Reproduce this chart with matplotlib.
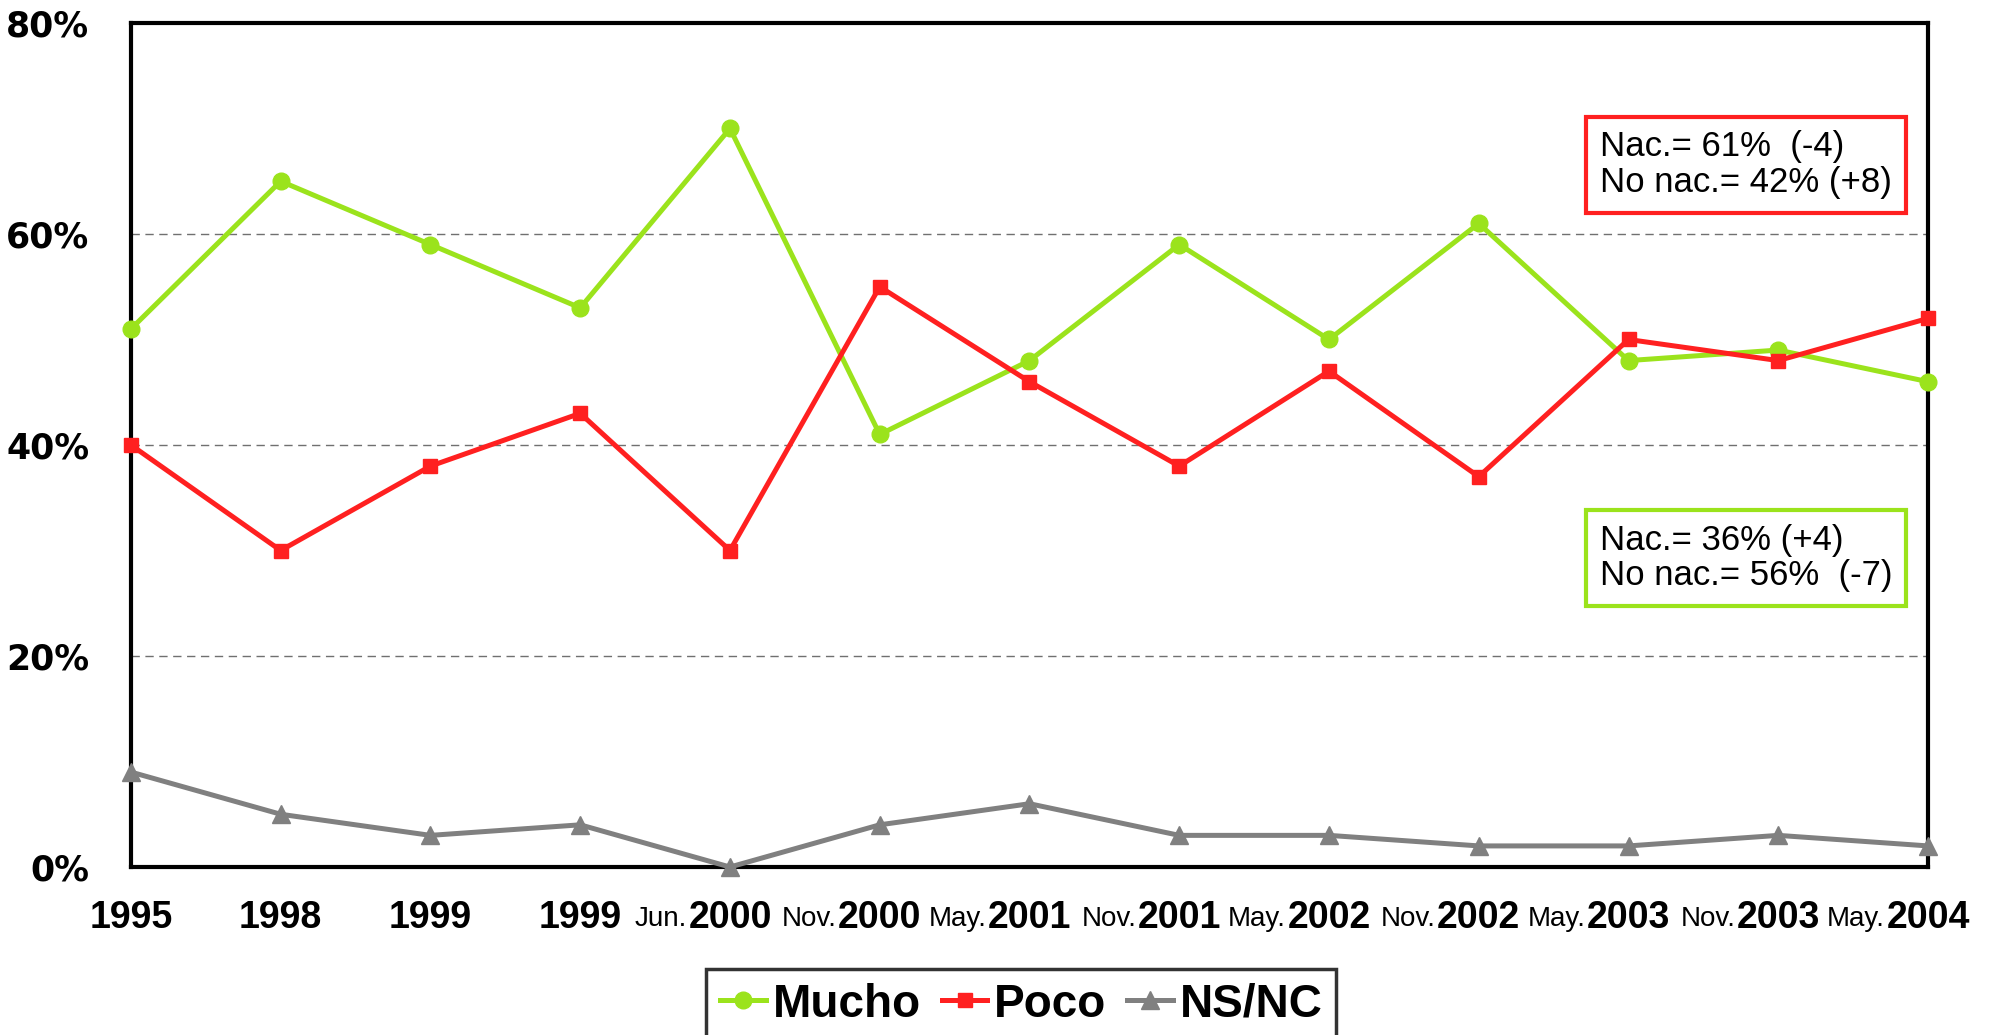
"""
Opinion series 1995-2004: Mucho / Poco / NS-NC
"""
import matplotlib
matplotlib.use("Agg")
import matplotlib.pyplot as plt
from matplotlib.lines import Line2D

COLOR_M = "#9be31c"
COLOR_P = "#ff2020"
COLOR_N = "#808080"
NARROW = ["Liberation Sans Narrow", "Liberation Sans", "DejaVu Sans"]
REGULAR = ["Liberation Sans", "DejaVu Sans"]

prefixes = ["", "", "", "", "Jun.", "Nov.", "May.", "Nov.", "May.",
            "Nov.", "May.", "Nov.", "May."]
years = ["1995", "1998", "1999", "1999", "2000", "2000", "2001", "2001",
         "2002", "2002", "2003", "2003", "2004"]

mucho = [51, 65, 59, 53, 70, 41, 48, 59, 50, 61, 48, 49, 46]
poco = [40, 30, 38, 43, 30, 55, 46, 38, 47, 37, 50, 48, 52]
nsnc = [9, 5, 3, 4, 0, 4, 6, 3, 3, 2, 2, 3, 2]

yticks = [0, 20, 40, 60, 80]

box_red = "Nac.= 61%  (-4)\nNo nac.= 42% (+8)"
box_green = "Nac.= 36% (+4)\nNo nac.= 56%  (-7)"

LW = 3.6

fig = plt.figure(figsize=(19.93, 10.35), dpi=100)
ax = fig.add_axes([0.0657, 0.1623, 0.9017, 0.8155])
x = list(range(len(years)))

ax.plot(x, mucho, "-o", color=COLOR_M, lw=LW, ms=12, clip_on=False, zorder=3)
ax.plot(x, poco, "-s", color=COLOR_P, lw=LW, ms=10.5, clip_on=False, zorder=3)
ax.plot(x, nsnc, "-^", color=COLOR_N, lw=LW, ms=13, clip_on=False, zorder=3)

ax.set_xlim(0, len(years) - 1)
ax.set_ylim(0, 80)
ax.set_yticks(yticks)
ax.set_yticklabels([f"{v}%" for v in yticks], fontsize=25, fontweight="bold",
                   family="DejaVu Sans")
ax.set_xticks([])
ax.tick_params(axis="y", length=0, pad=30)
for s in ax.spines.values():
	s.set_linewidth(3)
for v in [20, 40, 60]:
	ax.axhline(v, color="#707070", lw=1.0, ls=(0, (6, 4)), zorder=1)

# x labels: bold year centred on the point, small prefix to its left
for i in x:
	yr = ax.annotate(years[i], xy=(i, 0), xycoords=("data", "axes fraction"),
	                 xytext=(0, -37), textcoords="offset points",
	                 ha="center", va="center", fontsize=27, fontweight="bold",
	                 family=NARROW)
	if prefixes[i]:
		ax.annotate(prefixes[i], xy=(0, 0.12), xycoords=yr,
		            xytext=(-1, 0), textcoords="offset points",
		            ha="right", va="bottom", fontsize=20, family=NARROW)

ax.text(0.8175, 0.832, box_red, transform=ax.transAxes, fontsize=25,
        family=REGULAR, va="center", ha="left", linespacing=1.1,
        bbox=dict(boxstyle="square,pad=0.4", fc="white", ec=COLOR_P, lw=3))
ax.text(0.8175, 0.366, box_green, transform=ax.transAxes, fontsize=25,
        family=REGULAR, va="center", ha="left", linespacing=1.1,
        bbox=dict(boxstyle="square,pad=0.4", fc="white", ec=COLOR_M, lw=3))

handles = [
	Line2D([], [], color=COLOR_M, lw=LW, marker="o", ms=12),
	Line2D([], [], color=COLOR_P, lw=LW, marker="s", ms=10.5),
	Line2D([], [], color=COLOR_N, lw=LW, marker="^", ms=13),
]
leg = fig.legend(handles, ["Mucho", "Poco", "NS/NC"], loc="upper center",
                 bbox_to_anchor=(0.5125, 0.064), borderaxespad=0, ncol=3,
                 frameon=True, fancybox=False, edgecolor="black",
                 handlelength=1.0, handletextpad=0.15, columnspacing=0.45,
                 borderpad=0.3,
                 prop=dict(family=NARROW, weight="bold", size=33))
leg.get_frame().set_linewidth(2.5)

fig.savefig("out.png", dpi=100)
